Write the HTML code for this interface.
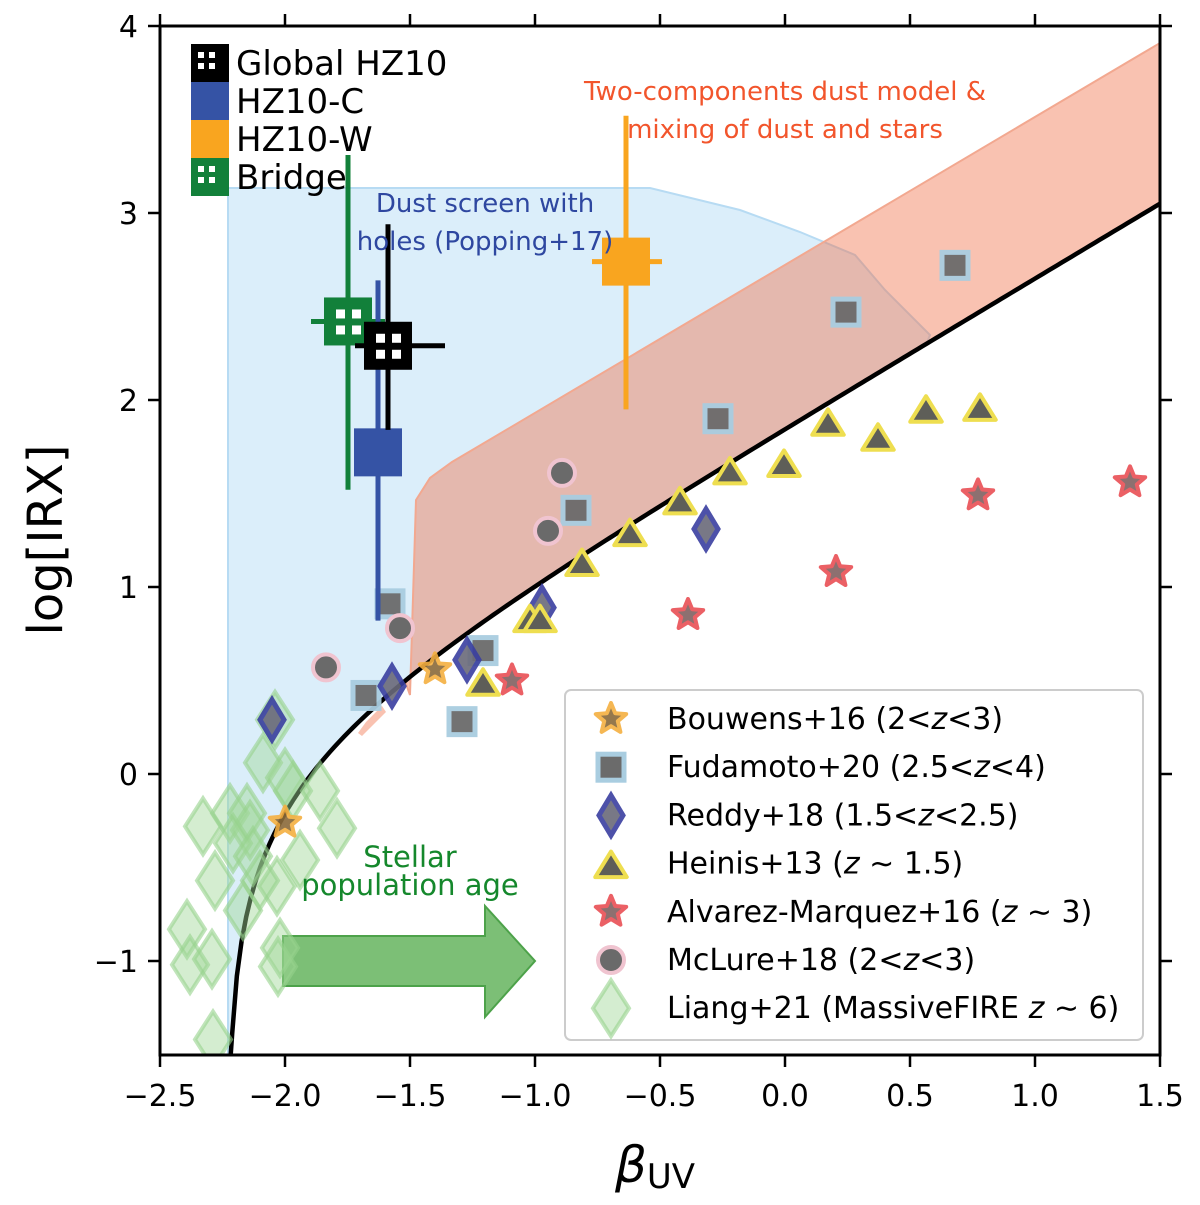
<!DOCTYPE html>
<html><head><meta charset="utf-8"><style>
body{margin:0;background:#fff}
svg text{font-family:"DejaVu Sans","Liberation Sans",sans-serif}
</style></head><body>
<svg id="chart" width="1200" height="1200" viewBox="0 0 1200 1200" xmlns="http://www.w3.org/2000/svg">
<g id="bg"></g><g id="marks"></g><g id="axes"></g><g id="legends"></g>
</svg>
<script>
// ---- data ----
const xTicks=[-2.5,-2.0,-1.5,-1.0,-0.5,0.0,0.5,1.0,1.5];
const xTickLabels=["−2.5","−2.0","−1.5","−1.0","−0.5","0.0","0.5","1.0","1.5"];
const yTicks=[-1,0,1,2,3,4];
const yTickLabels=["−1","0","1","2","3","4"];
const bouwensBeta=[-1.40,-2.00];
const bouwensIRX=[0.56,-0.26];
const fudaBeta=[-1.58,-1.676,-1.292,-1.208,-0.836,-0.268,0.244,0.68];
const fudaIRX=[0.91,0.42,0.28,0.66,1.41,1.90,2.47,2.72];
const reddyBeta=[-2.052,-1.572,-1.272,-0.972,-0.316];
const reddyIRX=[0.29,0.47,0.61,0.89,1.31];
const heinisBeta=[-1.208,-1.02,-0.98,-0.812,-0.62,-0.42,-0.22,-0.004,0.172,0.372,0.564,0.78];
const heinisIRX=[0.48,0.82,0.82,1.12,1.28,1.45,1.61,1.65,1.87,1.79,1.94,1.95];
const alvBeta=[-1.092,-0.388,0.204,0.772,1.38];
const alvIRX=[0.50,0.85,1.08,1.49,1.56];
const mclBeta=[-1.836,-1.54,-0.892,-0.948];
const mclIRX=[0.57,0.78,1.61,1.30];
const liangBeta=[-2.04,-2.088,-2.0,-1.968,-1.86,-2.22,-2.328,-2.152,-2.14,-2.208,-1.792,-1.94,-2.28,-2.128,-2.032,-2.1,-2.168,-2.392,-2.38,-2.292,-2.02,-2.028,-2.288];
const liangIRX=[0.29,0.06,-0.02,-0.09,-0.09,-0.21,-0.28,-0.21,-0.30,-0.37,-0.29,-0.46,-0.57,-0.44,-0.60,-0.57,-0.73,-0.83,-1.02,-0.99,-0.93,-1.03,-1.42];
const hzNames=["Bridge","HZ10-C","HZ10-W","Global HZ10"];
const hzBeta=[-1.748,-1.628,-0.636,-1.588];
const hzIRX=[2.42,1.72,2.74,2.29];
const hzXlo=[-1.896,-1.628,-0.772,-1.72];
const hzXhi=[-1.60,-1.628,-0.492,-1.36];
const hzYlo=[1.52,0.82,1.95,1.84];
const hzYhi=[3.31,2.64,3.52,2.94];
const curveB=0.8, curveC=1.165, curveB0=-2.23;

// ---- axes ----
const X=b=>160+(b+2.5)*250;
const Y=v=>774-v*187;
const NS="http://www.w3.org/2000/svg";
function mk(parent,tag,attrs){const e=document.createElementNS(NS,tag);for(const k in attrs)e.setAttribute(k,attrs[k]);parent.appendChild(e);return e;}
const bg=document.getElementById('bg'),marks=document.getElementById('marks'),axes=document.getElementById('axes'),legs=document.getElementById('legends');
const clip=mk(document.getElementById('chart'),'clipPath',{id:'pc'});mk(clip,'rect',{x:160,y:26,width:1000,height:1029});
bg.setAttribute('clip-path','url(#pc)');marks.setAttribute('clip-path','url(#pc)');
const irxCurve=b=>Math.log10(curveC*(Math.pow(10,curveB*(b-curveB0))-1));
function curvePts(b1,b2){const p=[];for(let i=0;i<=200;i++){const b=b1+(b2-b1)*i/200;const v=irxCurve(b);if(isFinite(v))p.push([X(b),Math.min(Y(v),1100)]);}return p;}
let cp=curvePts(-2.2295,0.58);
let bluePts=[[228,1060],[228,188],[650,188],[740,210],[800,232],[855,255],[885,290],[930,335]].concat(cp.slice().reverse().filter(p=>p[0]<930));
let blue=mk(bg,'polygon',{points:bluePts.map(p=>p.join(',')).join(' '),fill:'rgba(170,214,242,0.42)',stroke:'#b7dbf3','stroke-width':2});

let cp2=curvePts(-1.52,1.5);
let pinkPts=[[410,695],[416,500],[430,478],[452,462],[1160,43]].concat(cp2.slice().reverse());
let pink=mk(bg,'polygon',{points:pinkPts.map(p=>p.join(',')).join(' '),fill:'rgba(240,110,70,0.42)',stroke:'#f2a890','stroke-width':2});

let pinkSmall=mk(bg,'polygon',{points:'358,733 366,722 382,706 386,712 362,736',fill:'rgba(240,110,70,0.42)'});

let cpAll=curvePts(-2.2299,1.5);
let cl=mk(bg,'polyline',{points:cpAll.map(p=>p.join(',')).join(' '),fill:'none',stroke:'#000','stroke-width':4.5});

let arr=mk(bg,'polygon',{points:'283,936 485,936 485,906 535,961 485,1017 485,986 283,986',fill:'#7cbf76',stroke:'#4da24a','stroke-width':2});


function diamond(g,cx,cy,w,h,fill,stroke,sw,op){return mk(g,'polygon',{points:`${cx},${cy-h} ${cx+w},${cy} ${cx},${cy+h} ${cx-w},${cy}`,fill,stroke,'stroke-width':sw,opacity:op});}
function star(g,cx,cy,R,fill,stroke,sw,op){let p=[];for(let i=0;i<10;i++){const r=i%2?R*0.45:R;const a=-Math.PI/2+i*Math.PI/5;p.push((cx+r*Math.cos(a)).toFixed(1)+','+(cy+r*Math.sin(a)).toFixed(1));}return mk(g,'polygon',{points:p.join(' '),fill,stroke,'stroke-width':sw,opacity:op,'stroke-linejoin':'round'});}
function tri(g,cx,cy,s,fill,stroke,sw){return mk(g,'polygon',{points:`${cx},${cy-s} ${cx+s*1.05},${cy+s*0.7} ${cx-s*1.05},${cy+s*0.7}`,fill,stroke,'stroke-width':sw,'stroke-linejoin':'round'});}
for(let i=0;i<liangBeta.length;i++){const e=diamond(marks,X(liangBeta[i]),Y(liangIRX[i]),18,28,'rgba(160,215,150,0.45)','rgba(150,210,140,0.6)',4,1);
}
for(let i=0;i<fudaBeta.length;i++){const e=mk(marks,'rect',{x:X(fudaBeta[i])-13,y:Y(fudaIRX[i])-13,width:26,height:26,fill:'#6b6b6b',stroke:'#a9cde0','stroke-width':5,opacity:0.95});
}
for(let i=0;i<mclBeta.length;i++){const e=mk(marks,'circle',{cx:X(mclBeta[i]),cy:Y(mclIRX[i]),r:13,fill:'#6a6a6a',stroke:'#f0c4d0','stroke-width':4});
}
for(let i=0;i<reddyBeta.length;i++){const e=diamond(marks,X(reddyBeta[i]),Y(reddyIRX[i]),12,20,'#6a6a7a','#3a3fa0',5,0.9);
}
for(let i=0;i<heinisBeta.length;i++){const e=tri(marks,X(heinisBeta[i]),Y(heinisIRX[i]),15,'#5e5e58','#eede50',4);
}
for(let i=0;i<alvBeta.length;i++){const e=star(marks,X(alvBeta[i]),Y(alvIRX[i]),16,'#7a5858','#e8454b',4,0.85);
}
for(let i=0;i<bouwensBeta.length;i++){const e=star(marks,X(bouwensBeta[i]),Y(bouwensIRX[i]),16,'#8a6a3a','#f5b041',4,0.9);
}
const hzCol=["#12803a","#3553a5","#f9a51f","#000000"];
const hzHatch=[true,false,false,true];
for(let i=0;i<hzBeta.length;i++){
 const cx=X(hzBeta[i]),cy=Y(hzIRX[i]),c=hzCol[i];
 const g=mk(marks,'g',{});
 
 
 mk(g,'line',{x1:cx,x2:cx,y1:Y(hzYlo[i]),y2:Y(hzYhi[i]),stroke:c,'stroke-width':5});
 if(hzXhi[i]>hzXlo[i])mk(g,'line',{x1:X(hzXlo[i]),x2:X(hzXhi[i]),y1:cy,y2:cy,stroke:c,'stroke-width':5});
 mk(g,'rect',{x:cx-24,y:cy-24,width:48,height:48,fill:c});
 if(hzHatch[i]){for(const dx of[-12,4])for(const dy of[-12,4])mk(g,'rect',{x:cx+dx,y:cy+dy,width:9,height:9,fill:'#fff'});}
}
function txt(g,x,y,s,attrs,name){const t=mk(g,'text',Object.assign({x,y},attrs));t.textContent=s;return t;}
txt(axes,785,100,'Two-components dust model &',{'font-size':26,fill:'#f2552c','text-anchor':'middle'},'annotation-two-component');
txt(axes,785,138,'mixing of dust and stars',{'font-size':26,fill:'#f2552c','text-anchor':'middle'},'annotation-two-component-line2');
txt(axes,485,212,'Dust screen with',{'font-size':26,fill:'#2e47a0','text-anchor':'middle'},'annotation-dust-screen');
txt(axes,485,250,'holes (Popping+17)',{'font-size':26,fill:'#2e47a0','text-anchor':'middle'},'annotation-dust-screen-line2');
txt(axes,410,867,'Stellar',{'font-size':29,fill:'#15882c','text-anchor':'middle'},'annotation-stellar');
txt(axes,410,895,'population age',{'font-size':29,fill:'#15882c','text-anchor':'middle'},'annotation-stellar-line2');
const fr=mk(axes,'rect',{x:160,y:26,width:1000,height:1029,fill:'none',stroke:'#000','stroke-width':3});

for(let i=0;i<xTicks.length;i++){const x=X(xTicks[i]);
 mk(axes,'line',{x1:x,x2:x,y1:1055,y2:1067,stroke:'#000','stroke-width':2.5});
 mk(axes,'line',{x1:x,x2:x,y1:26,y2:14,stroke:'#000','stroke-width':2.5});
 txt(axes,x,1106,xTickLabels[i],{'font-size':30,'text-anchor':'middle'},'x-tick-label');}
for(let i=0;i<yTicks.length;i++){const y=Y(yTicks[i]);
 mk(axes,'line',{x1:148,x2:160,y1:y,y2:y,stroke:'#000','stroke-width':2.5});
 mk(axes,'line',{x1:1160,x2:1172,y1:y,y2:y,stroke:'#000','stroke-width':2.5});
 txt(axes,138,y+11,yTickLabels[i],{'font-size':30,'text-anchor':'end'},'y-tick-label');}
const yl=txt(axes,0,0,'log[IRX]',{'font-size':48,'text-anchor':'middle',transform:'translate(62,540) rotate(-90)'},'y-axis-title');
const xl=mk(axes,'text',{x:655,y:1182,'font-size':50,'text-anchor':'middle'});

xl.innerHTML='<tspan font-style="italic">β</tspan><tspan font-size="34" dy="6">UV</tspan>';
const tl=[["Global HZ10","#000",true],["HZ10-C","#3553a5",false],["HZ10-W","#f9a51f",false],["Bridge","#12803a",true]];
tl.forEach((e,i)=>{const y=44+i*38;const g=mk(legs,'g',{});
 
 mk(g,'rect',{x:191,y,width:38,height:38,fill:e[1]});
 if(e[2]){for(const dx of[11,22])for(const dy of[12,23])mk(g,'rect',{x:191+dx-4,y:y+dy-4,width:6,height:6,fill:'#fff'});}
 const t=mk(g,'text',{x:236,y:y+31,'font-size':34});t.textContent=e[0];});
const lb=mk(legs,'rect',{x:565,y:690,width:578,height:350,rx:6,fill:'rgba(255,255,255,0.85)',stroke:'#ccc','stroke-width':2});

const lr=[["Bouwens+16 (2<","z","<3)"],["Fudamoto+20 (2.5<","z","<4)"],["Reddy+18 (1.5<","z","<2.5)"],["Heinis+13 (","z"," ∼ 1.5)"],["Alvarez-Marquez+16 (","z"," ∼ 3)"],["McLure+18 (2<","z","<3)"],["Liang+21 (MassiveFIRE ","z"," ∼ 6)"]];
lr.forEach((e,i)=>{const y=719+i*48.2;const g=mk(legs,'g',{});
 
 if(i==0)star(g,611,y,16,'#8a6a3a','#f5b041',4,0.9);
 if(i==1)mk(g,'rect',{x:598,y:y-13,width:26,height:26,fill:'#6b6b6b',stroke:'#a9cde0','stroke-width':5});
 if(i==2)diamond(g,611,y,12,20,'#6a6a7a','#3a3fa0',5,0.9);
 if(i==3)tri(g,611,y+3,15,'#5e5e58','#eede50',4);
 if(i==4)star(g,611,y,16,'#7a5858','#e8454b',4,0.85);
 if(i==5)mk(g,'circle',{cx:611,cy:y,r:13,fill:'#6a6a6a',stroke:'#f0c4d0','stroke-width':4});
 if(i==6)diamond(g,611,y,18,28,'rgba(160,215,150,0.45)','rgba(150,210,140,0.6)',4,1);
 const t=mk(g,'text',{x:667,y:y+10,'font-size':30});
 t.innerHTML=e[0].replace(/</g,'&lt;')+'<tspan font-style="italic">'+e[1]+'</tspan>'+e[2].replace(/</g,'&lt;');});
</script>
</body></html>
